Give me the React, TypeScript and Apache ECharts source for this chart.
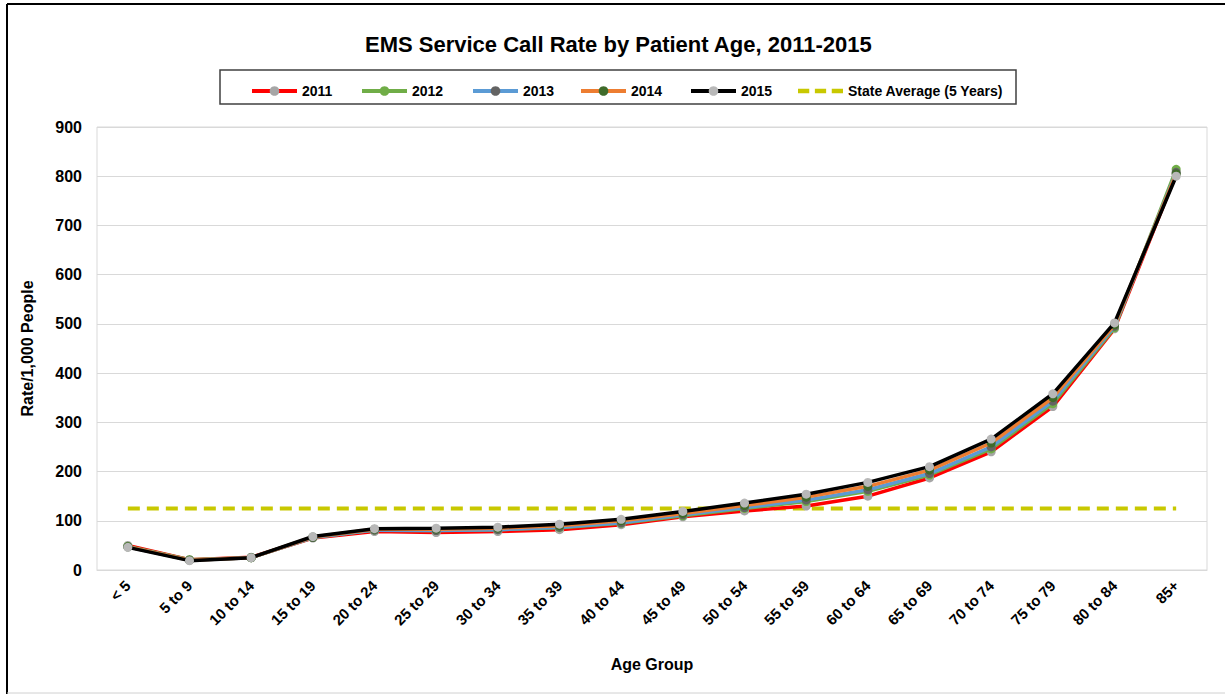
import React, { useEffect, useRef } from "react";
import * as echarts from "echarts";

const categories = ["< 5", "5 to 9", "10 to 14", "15 to 19", "20 to 24", "25 to 29", "30 to 34", "35 to 39", "40 to 44", "45 to 49", "50 to 54", "55 to 59", "60 to 64", "65 to 69", "70 to 74", "75 to 79", "80 to 84", "85+"];
const y2011 = [50, 21, 26, 65, 78, 76, 78, 82, 92, 108, 120, 130, 150, 187, 240, 332, 490, 805];
const y2012 = [48, 21, 25, 66, 81, 80, 82, 86, 95, 110, 125, 139, 160, 193, 246, 338, 492, 814];
const y2013 = [47, 20, 25, 66, 81, 80, 82, 87, 96, 112, 127, 142, 163, 196, 250, 343, 495, 808];
const y2014 = [47, 20, 25, 67, 83, 83, 85, 90, 100, 115, 131, 148, 170, 203, 258, 350, 498, 805];
const y2015 = [46, 19, 25, 68, 84, 85, 87, 93, 103, 119, 136, 154, 178, 210, 266, 358, 502, 800];
const stateAverage = 125;
const yTicks = { min: 0, max: 900, interval: 100 };

const FONT = "'Liberation Sans Narrow', 'Arial Narrow', 'Liberation Sans', Arial, sans-serif";

export default function App() {
  const ref = useRef<HTMLDivElement>(null);
  useEffect(() => {
    document.body.style.margin = "0";
    const chart = echarts.init(ref.current!, null, { renderer: "svg" });
    const mk = (name: string, data: number[], color: string, marker: string, z: number) => ({
      name,
      type: "line",
      data,
      z,
      symbol: "circle",
      symbolSize: 9,
      lineStyle: { color, width: 3.5 },
      itemStyle: { color: marker, borderWidth: 0 },
      color,
    });
    const names = ["2011", "2012", "2013", "2014", "2015", "State Average (5 Years)"];
    const lefts = [245, 355, 466, 574, 684, 793];
    const legendText = { fontFamily: FONT, fontWeight: "bold", fontSize: 14, color: "#000" };
    chart.setOption({
      animation: false,
      backgroundColor: "#ffffff",
      textStyle: { fontFamily: FONT },
      title: {
        text: "EMS Service Call Rate by Patient Age, 2011-2015",
        left: 360,
        top: 28,
        textStyle: { fontFamily: FONT, fontWeight: "bold", fontSize: 22, color: "#000" },
      },
      legend: names.map((n, i) =>
        i < 5
          ? {
              data: [n],
              left: lefts[i],
              top: 79,
              itemWidth: 45,
              itemHeight: 12,
              itemGap: 0,
              lineStyle: { width: 4 },
              textStyle: legendText,
            }
          : {
              data: [
                {
                  name: n,
                  icon: "path://M0,0 H10 V4 H0 Z M15,0 H25 V4 H15 Z M30,0 H40 V4 H30 Z",
                  itemStyle: { color: "#c8c800" },
                },
              ],
              left: lefts[i],
              top: 79,
              itemWidth: 45,
              itemHeight: 5,
              itemGap: 0,
              textStyle: legendText,
            }
      ),
      grid: { left: 97, right: 18, top: 127, bottom: 124, show: true, borderColor: "#d9d9d9", borderWidth: 1 },
      xAxis: {
        type: "category",
        data: categories,
        boundaryGap: true,
        axisLine: { lineStyle: { color: "#d9d9d9" } },
        axisTick: { show: false },
        axisLabel: { rotate: 45, margin: 13, fontFamily: FONT, fontWeight: "bold", fontSize: 15, color: "#000", interval: 0 },
        name: "Age Group",
        nameLocation: "middle",
        nameGap: 86,
        nameTextStyle: { fontFamily: FONT, fontWeight: "bold", fontSize: 16, color: "#000" },
      },
      yAxis: {
        type: "value",
        min: yTicks.min,
        max: yTicks.max,
        interval: yTicks.interval,
        splitLine: { lineStyle: { color: "#d9d9d9" } },
        axisLine: { show: false },
        axisTick: { show: false },
        axisLabel: { margin: 15, fontFamily: FONT, fontWeight: "bold", fontSize: 16, color: "#000" },
        name: "Rate/1,000 People",
        nameLocation: "middle",
        nameGap: 62,
        nameTextStyle: { fontFamily: FONT, fontWeight: "bold", fontSize: 16, color: "#000" },
      },
      graphic: [
        { type: "line", shape: { x1: 7, y1: 4, x2: 1225, y2: 4 }, style: { stroke: "#000", lineWidth: 2 } },
        { type: "line", shape: { x1: 7, y1: 4, x2: 7, y2: 694 }, style: { stroke: "#000", lineWidth: 2 } },
        { type: "line", shape: { x1: 7, y1: 693, x2: 1225, y2: 693 }, style: { stroke: "#d0d0d0", lineWidth: 1 } },
        { type: "rect", shape: { x: 220, y: 70, width: 796, height: 34 }, style: { fill: "none", stroke: "#404040", lineWidth: 1.5 } },
      ],
      series: [
        {
          name: "State Average (5 Years)",
          type: "line",
          data: categories.map(() => stateAverage),
          symbol: "none",
          z: 1,
          color: "#c8c800",
          lineStyle: { color: "#c8c800", width: 4, type: [12, 7] },
        },
        mk("2011", y2011, "#ff0000", "#a6a6a6", 2),
        mk("2012", y2012, "#70ad47", "#70ad47", 3),
        mk("2013", y2013, "#5b9bd5", "#636363", 4),
        mk("2014", y2014, "#ed7d31", "#3f6b2a", 5),
        mk("2015", y2015, "#000000", "#b8b8b8", 6),
      ],
    });
    return () => chart.dispose();
  }, []);
  return <div ref={ref} style={{ width: 1225, height: 694 }} />;
}
